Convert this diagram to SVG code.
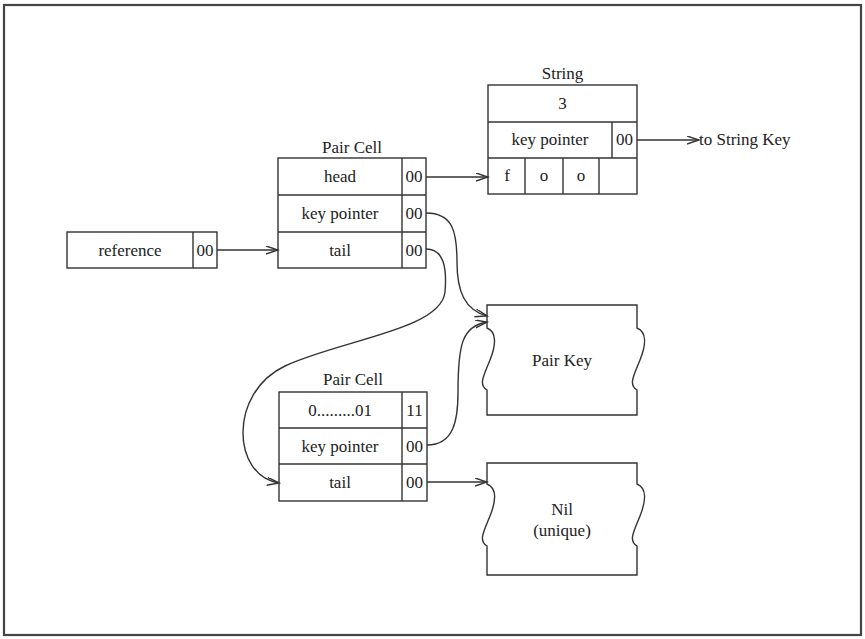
<svg xmlns="http://www.w3.org/2000/svg" width="865" height="639" viewBox="0 0 865 639">
<style>
.box{fill:#fff;stroke:#333;stroke-width:1.4}
.ln{fill:none;stroke:#333;stroke-width:1.4}
.t{font-family:"Liberation Serif","Times New Roman",serif;font-size:17px;fill:#222;text-anchor:middle}
.ts{font-family:"Liberation Serif","Times New Roman",serif;font-size:17px;fill:#222;text-anchor:start}
.c{fill:none;stroke:#333;stroke-width:1.4}
</style>
<defs>
<marker id="ah" markerUnits="userSpaceOnUse" markerWidth="14" markerHeight="10" refX="12" refY="4" orient="auto" viewBox="0 0 14 10">
<path d="M0,0 L12,4 L0,8" fill="none" stroke="#333" stroke-width="1.4"/>
</marker>
</defs>
<rect width="865" height="639" fill="#fff"/>
<rect id="frame" x="4" y="5" width="857" height="630" fill="none" stroke="#444" stroke-width="2.2"/>

<g id="string">
<text class="t" x="562.5" y="79">String</text>
<rect class="box" x="488" y="85" width="149" height="109"/>
<line class="ln" x1="488" y1="122" x2="637" y2="122"/>
<line class="ln" x1="488" y1="158" x2="637" y2="158"/>
<line class="ln" x1="612" y1="122" x2="612" y2="158"/>
<line class="ln" x1="525" y1="158" x2="525" y2="194"/>
<line class="ln" x1="563" y1="158" x2="563" y2="194"/>
<line class="ln" x1="599" y1="158" x2="599" y2="194"/>
<text class="t" x="562.5" y="109">3</text>
<text class="t" x="550" y="145">key pointer</text>
<text class="t" x="624.5" y="145">00</text>
<text class="t" x="507" y="181">f</text>
<text class="t" x="544" y="181">o</text>
<text class="t" x="581" y="181">o</text>
</g>

<g id="pair-cell-1">
<text class="t" x="352" y="153">Pair Cell</text>
<rect class="box" x="278" y="158" width="148" height="110"/>
<line class="ln" x1="278" y1="195" x2="426" y2="195"/>
<line class="ln" x1="278" y1="232" x2="426" y2="232"/>
<line class="ln" x1="402" y1="158" x2="402" y2="268"/>
<text class="t" x="340" y="182">head</text>
<text class="t" x="340" y="219">key pointer</text>
<text class="t" x="340" y="256">tail</text>
<text class="t" x="414" y="182">00</text>
<text class="t" x="414" y="219">00</text>
<text class="t" x="414" y="256">00</text>
</g>

<g id="reference">
<rect class="box" x="67" y="232" width="150" height="36"/>
<line class="ln" x1="193" y1="232" x2="193" y2="268"/>
<text class="t" x="130" y="256">reference</text>
<text class="t" x="205" y="256">00</text>
</g>

<g id="pair-cell-2">
<text class="t" x="353" y="385">Pair Cell</text>
<rect class="box" x="279" y="392" width="148" height="109"/>
<line class="ln" x1="279" y1="428" x2="427" y2="428"/>
<line class="ln" x1="279" y1="464" x2="427" y2="464"/>
<line class="ln" x1="402" y1="392" x2="402" y2="501"/>
<text class="t" x="340" y="416">0.........01</text>
<text class="t" x="340" y="452">key pointer</text>
<text class="t" x="340" y="488">tail</text>
<text class="t" x="414.5" y="416">11</text>
<text class="t" x="414.5" y="452">00</text>
<text class="t" x="414.5" y="488">00</text>
</g>

<g id="pair-key">
<path class="box" d="M487,305 H637 V328 C647,332 646,345 640,360 C634,375 628,385 637,390 V415 H487 V390 C478,385 484,375 490,360 C496,345 497,332 487,328 Z"/>
<text class="t" x="562" y="366">Pair Key</text>
</g>

<g id="nil">
<path class="box" d="M487,463 H637 V484 C647,488 646,501 640,516 C634,531 628,541 637,546 V575 H487 V546 C478,541 484,531 490,516 C496,501 497,488 487,484 Z"/>
<text class="t" x="562" y="515">Nil</text>
<text class="t" x="562" y="536">(unique)</text>
</g>

<g id="connectors">
<line class="c" x1="217" y1="250" x2="278" y2="250" marker-end="url(#ah)"/>
<line class="c" x1="426" y1="177" x2="488" y2="177" marker-end="url(#ah)"/>
<line class="c" x1="637" y1="140" x2="699" y2="140" marker-end="url(#ah)"/>
<line class="c" x1="427" y1="482" x2="487" y2="482" marker-end="url(#ah)"/>
<path class="c" d="M426,213 C453,213 457,232 457,262 C457,292 465,310 487,316" marker-end="url(#ah)"/>
<path class="c" d="M426,249 C444,249 447,268 445,292 C441,330 340,340 285,366 C228,393 232,476 279,483" marker-end="url(#ah)"/>
<path class="c" d="M427,445 C454,445 458,420 458,392 C458,345 462,326 487,322" marker-end="url(#ah)"/>
<text class="ts" x="699" y="145">to String Key</text>
</g>
</svg>
